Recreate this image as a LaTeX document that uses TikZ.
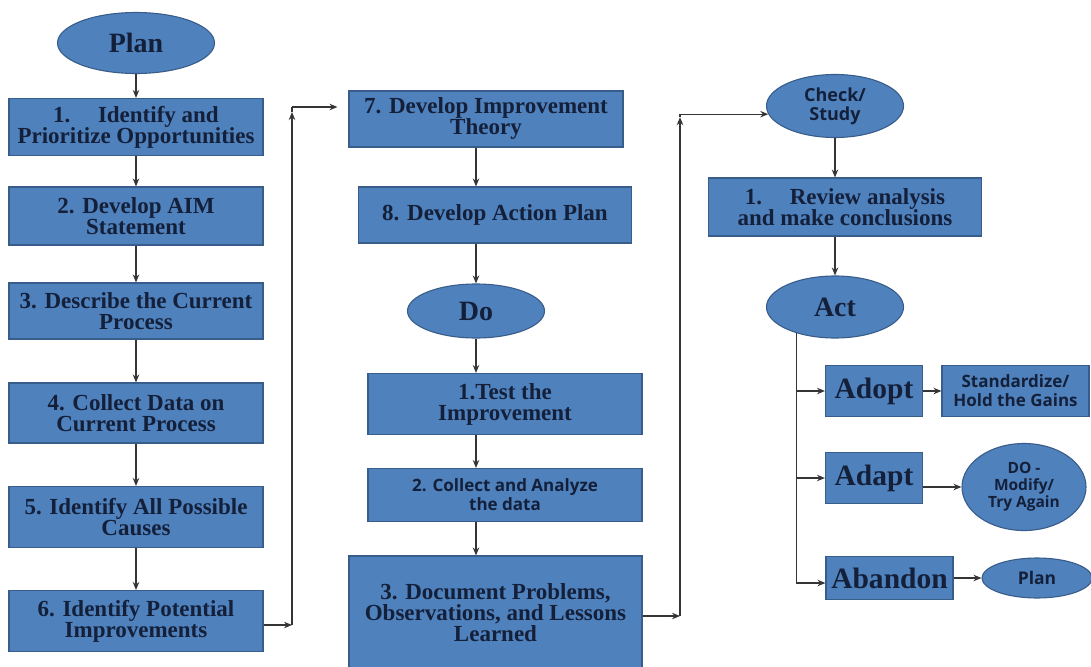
\documentclass[tikz,border=0pt]{standalone}
\usepackage{fontspec}
\setmainfont{Liberation Serif}
\newfontfamily\osans{Open Sans}
\usetikzlibrary{shapes.geometric,arrows.meta}
\definecolor{boxfill}{HTML}{4F81BD}
\definecolor{boxline}{HTML}{385D8A}
\definecolor{txt}{HTML}{14203A}
\definecolor{lc}{HTML}{353535}
\begin{document}
\begin{tikzpicture}[x=1pt,y=-1pt,
  base/.style={draw=boxline, fill=boxfill, line width=1.1pt, inner sep=0pt, align=center, text=txt},
  box/.style={base, rectangle, font=\bfseries\fontsize{23}{21}\selectfont},
  sbox/.style={base, rectangle, font=\osans\bfseries\fontsize{17}{19}\selectfont},
  ell/.style={base, ellipse},
  bigf/.style={font=\bfseries\fontsize{28}{28}\selectfont},
  bigg/.style={font=\bfseries\fontsize{29.5}{29.5}\selectfont},
  sf/.style={font=\osans\bfseries\fontsize{15.5}{17}\selectfont},
  arr/.style={-{Stealth[length=8pt,width=6.5pt]}, line width=1.2pt, draw=lc},
  ln/.style={line width=1.2pt, draw=lc}]
\useasboundingbox (0,0) rectangle (1091,666);
\fill[white] (0,0) rectangle (1091,666);
% Plan column
\node[ell, bigf, minimum width=157, minimum height=61] (plan) at (136,43) {Plan};
\node[box, minimum width=254, minimum height=57] (b1) at (136,127) {1.\hspace{1.2em}Identify and\\Prioritize Opportunities};
\node[box, minimum width=254, minimum height=58] (b2) at (136,216) {2. Develop AIM\\Statement};
\node[box, minimum width=254, minimum height=56] (b3) at (136,311) {3. Describe the Current\\Process};
\node[box, minimum width=254, minimum height=60] (b4) at (136,413) {4. Collect Data on\\Current Process};
\node[box, minimum width=254, minimum height=61] (b5) at (136,517) {5. Identify All Possible\\Causes};
\node[box, minimum width=254, minimum height=61] (b6) at (136,621) {6. Identify Potential\\Improvements};
% Do column
\node[box, minimum width=274, minimum height=56] (b7) at (486,119) {7. Develop Improvement\\Theory};
\node[box, minimum width=273, minimum height=56] (b8) at (495,215) {8. Develop Action Plan};
\node[ell, bigf, minimum width=137, minimum height=54] (do) at (476,311) {Do};
\node[box, minimum width=274, minimum height=61] (test) at (505,404) {1.Test the\\Improvement};
\node[sbox, minimum width=274, minimum height=53] (coll) at (505,495) {2. Collect and Analyze\\the data};
\node[box, minimum width=293, minimum height=114] (doc) at (495.5,613) {3. Document Problems,\\Observations, and Lessons\\Learned};
% Check / Act column
\node[ell, font=\osans\bfseries\fontsize{18}{19}\selectfont, minimum width=137, minimum height=63] (check) at (835,106) {Check/\\Study};
\node[box, minimum width=273, minimum height=58] (review) at (845,207) {1.\hspace{1.2em}Review analysis\\and make conclusions};
\node[ell, bigf, minimum width=137, minimum height=62] (act) at (835,307) {Act};
\node[box, bigg, minimum width=97, minimum height=51] (adopt) at (874,391) {Adopt};
\node[sbox, minimum width=147, minimum height=51] (std) at (1015.5,391) {Standardize/\\Hold the Gains};
\node[box, bigg, minimum width=97, minimum height=51] (adapt) at (874,478) {Adapt};
\node[ell, sf, minimum width=124, minimum height=87] (dom) at (1024,487) {DO -\\Modify/\\Try Again};
\node[box, bigg, minimum width=127, minimum height=43] (abandon) at (889.5,578) {Abandon};
\node[ell, font=\osans\bfseries\fontsize{17.5}{17.5}\selectfont, minimum width=110, minimum height=40] (plan2) at (1037,578) {Plan};
% connectors, plan column
\draw[arr] (plan) -- (b1);
\draw[arr] (b1) -- (b2);
\draw[arr] (b2) -- (b3);
\draw[arr] (b3) -- (b4);
\draw[arr] (b4) -- (b5);
\draw[arr] (b5) -- (b6);
\coordinate (c1) at (292,625);
\coordinate (c2) at (292,107);
\draw[arr] (b6.east |- c1) -- (c1);
\draw[arr] (c1) -- ([yshift=-5pt]c2);
\draw[ln] ([yshift=-5pt]c2) -- (c2);
\draw[arr, shorten >=11pt] (c2) -- (b7.west |- c2);
% do column
\draw[arr] (b7.south -| do) -- (b8.north -| do);
\draw[arr] (b8.south -| do) -- (do.north);
\draw[arr] (do.south) -- (test.north -| do);
\draw[arr] (test.south -| do) -- (coll.north -| do);
\draw[arr] (coll.south -| do) -- (doc.north -| do);
\coordinate (d1) at (680,616);
\coordinate (d2) at (d1 |- check.187);
\draw[arr] (doc.east |- d1) -- (d1);
\draw[arr] (d1) -- ([yshift=-3pt]d2);
\draw[ln] ([yshift=-3pt]d2) -- (d2);
\draw[arr] (d2) -- (check.187);
% check / act column
\draw[arr] (check) -- (review.north -| check);
\draw[arr] (review.south -| check) -- (act);
\coordinate (br3) at (797,583);
\draw[arr] (act.214) |- (abandon.west |- br3);
\draw[arr] (act.214 |- adopt.west) -- (adopt.west);
\draw[arr] (act.214 |- adapt.west) -- (adapt.west);
\draw[arr] (adopt) -- (std);
\draw[arr] (adapt.east |- dom.west) -- (dom.west);
\draw[arr] (abandon) -- (plan2);
\end{tikzpicture}
\end{document}
